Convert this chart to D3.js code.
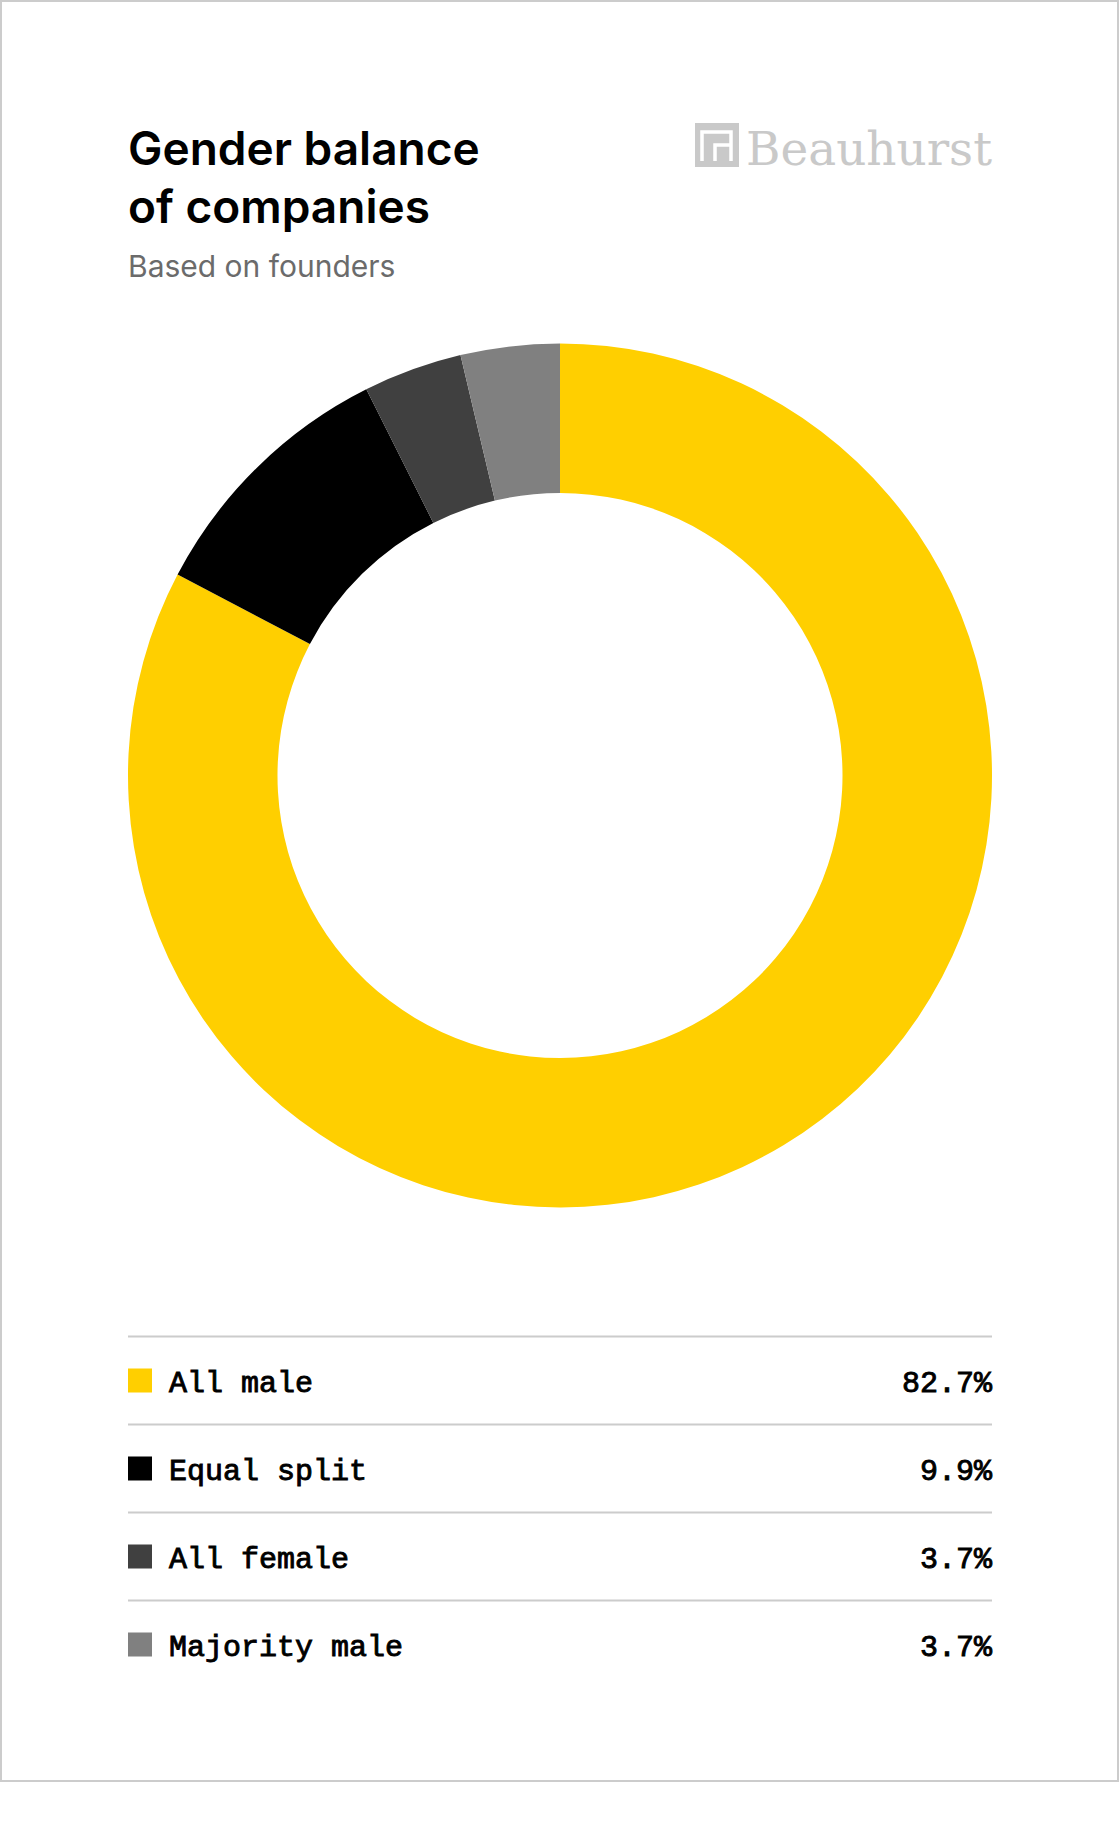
<!DOCTYPE html>
<html>
<head>
<meta charset="utf-8">
<script src="https://cdn.jsdelivr.net/npm/d3@7"></script>
<style>
  body { margin: 0; background: #fff; }
</style>
</head>
<body>
<script>
// Data
var categories = ["All male", "Equal split", "All female", "Majority male"];
var shares = [82.7, 9.9, 3.7, 3.7];

var titleLines = ["Gender balance", "of companies"];
var subtitle = "Based on founders";

// Page / card dimensions
var width = 1120, height = 1846,
    cardW = 1118, cardH = 1780,
    padLeft = 128, padRight = 992;

var colour = d3.scaleOrdinal()
    .domain(categories)
    .range(["#ffcf00", "#000000", "#404040", "#808080"]);

var data = categories.map(function(c, i) { return {name: c, value: shares[i]}; });

var svg = d3.select("body")
  .append("svg")
    .attr("width", width)
    .attr("height", height);

// Card with grey border
svg.append("rect")
    .attr("x", 1)
    .attr("y", 1)
    .attr("width", cardW - 1)
    .attr("height", cardH)
    .attr("fill", "#fff")
    .attr("stroke", "#cccccc")
    .attr("stroke-width", 2);

// Title
svg.append("text")
    .attr("x", padLeft)
    .attr("y", 165)
    .attr("font-family", "Inter, 'Noto Sans', sans-serif")
    .attr("font-weight", 600)
    .attr("font-size", 46)
    .attr("fill", "#000")
  .selectAll("tspan")
  .data(titleLines)
  .enter().append("tspan")
    .attr("x", padLeft)
    .attr("dy", function(d, i) { return i ? 58 : 0; })
    .text(function(d) { return d; });

svg.append("text")
    .attr("x", padLeft)
    .attr("y", 277)
    .attr("font-family", "Inter, 'Noto Sans', sans-serif")
    .attr("font-size", 30)
    .attr("fill", "#6b6b6b")
    .text(subtitle);

// Logo
var logo = svg.append("g")
    .attr("transform", "translate(695,123)");

logo.append("rect")
    .attr("width", 44)
    .attr("height", 44)
    .attr("fill", "#c9c9c9");

logo.append("path")
    .attr("d", "M7,38V9H36V38M20,38V22H36")
    .attr("fill", "none")
    .attr("stroke", "#fff")
    .attr("stroke-width", 3.5);

svg.append("text")
    .attr("x", 746)
    .attr("y", 165)
    .attr("font-family", "'DejaVu Serif', serif")
    .attr("font-size", 47)
    .attr("fill", "#c9c9c9")
    .attr("textLength", 246)
    .attr("lengthAdjust", "spacingAndGlyphs")
    .text("Beauhurst");

// Donut
var pie = d3.pie()
    .sort(null)
    .value(function(d) { return d.value; });

var arc = d3.arc()
    .innerRadius(282.5)
    .outerRadius(432);

svg.append("g")
    .attr("transform", "translate(560,775.5)")
  .selectAll("path")
  .data(pie(data))
  .enter().append("path")
    .attr("d", arc)
    .attr("fill", function(d) { return colour(d.data.name); });

// Legend table
var y = d3.scaleBand()
    .domain(categories)
    .range([1336.5, 1336.5 + 88 * categories.length]);

var fmt = d3.format(".1f");

var rows = svg.append("g")
  .selectAll("g")
  .data(data)
  .enter().append("g")
    .attr("transform", function(d) { return "translate(0," + y(d.name) + ")"; });

rows.append("line")
    .attr("x1", padLeft)
    .attr("x2", padRight)
    .attr("stroke", "#cccccc")
    .attr("stroke-width", 2);

rows.append("rect")
    .attr("x", padLeft)
    .attr("y", 32)
    .attr("width", 24)
    .attr("height", 24)
    .attr("fill", function(d) { return colour(d.name); });

// mono labels, slightly thickened to look like a medium weight
function monoText(sel) {
  sel.attr("y", 55)
     .attr("font-family", "'Liberation Mono', 'DejaVu Sans Mono', monospace")
     .attr("font-size", 30)
     .attr("fill", "#000")
     .attr("stroke", "#000")
     .attr("stroke-width", 0.9);
}

rows.append("text")
    .attr("x", 169)
    .call(monoText)
    .text(function(d) { return d.name; });

rows.append("text")
    .attr("x", padRight)
    .attr("text-anchor", "end")
    .call(monoText)
    .text(function(d) { return fmt(d.value) + "%"; });
</script>
</body>
</html>
